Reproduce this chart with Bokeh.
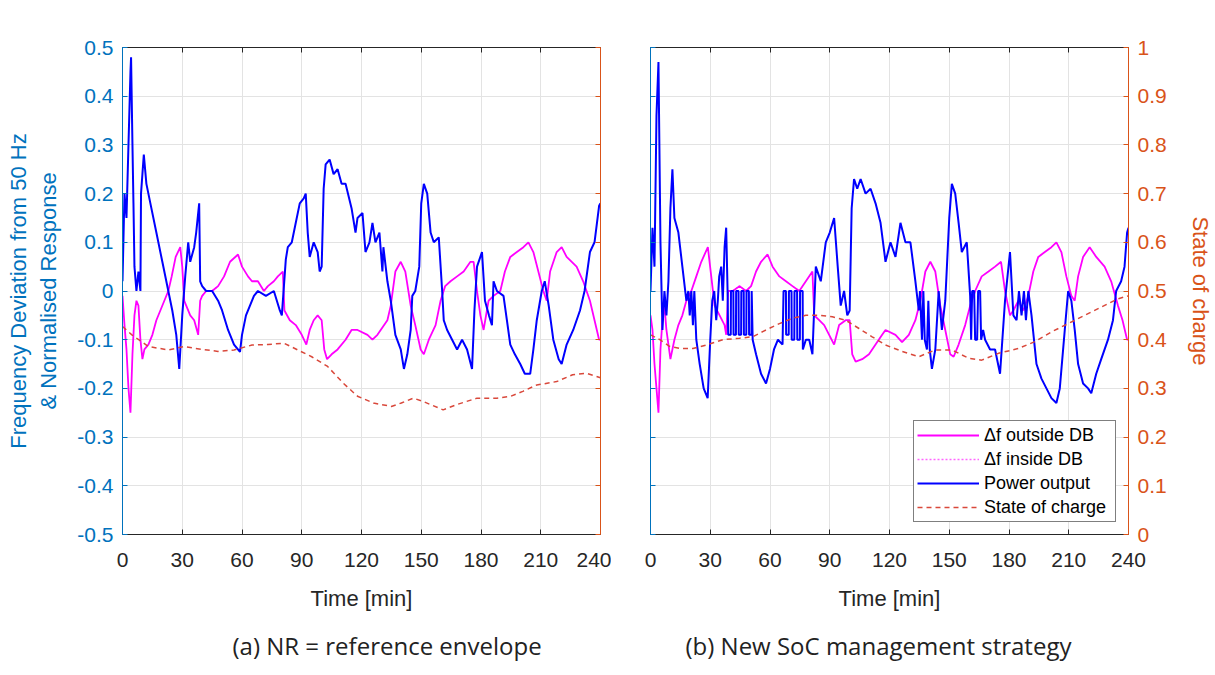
from bokeh.plotting import figure
from bokeh.models import Range1d, LinearAxis, FixedTicker, Legend, LegendItem, CustomLabelingPolicy
from bokeh.layouts import row
from bokeh.embed import file_html
from bokeh.resources import INLINE

NAN = float("nan")

# ---------------- axes / ticks ----------------
x_ticks = [0, 30, 60, 90, 120, 150, 180, 210, 240]
x_tick_labels = ["0", "30", "60", "90", "120", "150", "180", "210", "240"]
y_ticks = [-0.5, -0.4, -0.3, -0.2, -0.1, 0, 0.1, 0.2, 0.3, 0.4, 0.5]
y_tick_labels = ["-0.5", "-0.4", "-0.3", "-0.2", "-0.1", "0", "0.1", "0.2", "0.3", "0.4", "0.5"]
soc_ticks = [0, 0.1, 0.2, 0.3, 0.4, 0.5, 0.6, 0.7, 0.8, 0.9, 1]
soc_tick_labels = ["0", "0.1", "0.2", "0.3", "0.4", "0.5", "0.6", "0.7", "0.8", "0.9", "1"]

captions = ["(a) NR = reference envelope", "(b) New SoC management strategy"]
legend_labels = ["\u0394f outside DB", "\u0394f inside DB", "Power output", "State of charge"]

# ---------------- panel (a) data ----------------
t_pow_a = [0, 1, 2, 3, 4, 4.3, 5, 5.5, 6, 7, 8, 9, 9.3, 10, 10.7, 12, 14, 17, 20, 23, 25, 27, 28.5,
           30, 31.5, 33, 34, 36, 37, 38.5, 39, 40, 42, 45, 48, 50, 53, 56, 59, 60, 62, 64, 66, 68,
           72, 76, 79, 80, 82, 83, 85, 87, 89, 91, 92, 93, 94, 96, 98, 99, 100, 101, 102, 104, 106,
           108, 110, 112, 115, 117, 118, 120.5, 122, 124, 125.5, 127, 129, 130.5, 131, 133, 134.7,
           137, 139.7, 141.3, 143, 144.7, 145.5, 147, 149, 150, 151.3, 153, 154.7, 156.3, 158.8,
           160.5, 161.3, 163, 165.5, 168, 170.5, 173, 175.5, 176.7, 178, 180.5, 182, 184, 185.5,
           186.3, 188, 191.3, 193, 194.7, 197, 199.7, 202, 204.7, 206.3, 208, 210.5, 212, 214,
           216.3, 219, 220.5, 223, 226.3, 229.7, 232, 234.7, 237, 239.3, 240]
pow_a = [0.02, 0.2, 0.15, 0.3, 0.45, 0.48, 0.3, 0.18, 0.05, 0.0, 0.04, 0.0, 0.2, 0.24, 0.28, 0.22,
         0.18, 0.12, 0.06, 0.0, -0.04, -0.09, -0.16, -0.05, 0.03, 0.1, 0.06, 0.09, 0.12, 0.18, 0.02,
         0.01, 0.0, 0.0, -0.02, -0.04, -0.08, -0.11, -0.125, -0.09, -0.05, -0.03, -0.01, 0.0, -0.01,
         0.0, -0.04, -0.05, 0.065, 0.09, 0.1, 0.14, 0.18, 0.19, 0.2, 0.12, 0.07, 0.1, 0.08, 0.04,
         0.05, 0.21, 0.26, 0.27, 0.24, 0.25, 0.22, 0.22, 0.17, 0.12, 0.15, 0.16, 0.08, 0.1, 0.14,
         0.1, 0.12, 0.04, 0.09, 0.02, -0.02, -0.09, -0.12, -0.16, -0.13, -0.08, -0.01, 0.0, 0.05,
         0.18, 0.22, 0.2, 0.12, 0.1, 0.11, 0.0, -0.06, -0.08, -0.1, -0.12, -0.1, -0.12, -0.16,
         -0.04, 0.05, 0.08, -0.02, -0.05, -0.07, 0.02, 0.0, -0.01, -0.06, -0.11, -0.13, -0.15,
         -0.17, -0.17, -0.12, -0.06, 0.0, 0.02, -0.03, -0.1, -0.14, -0.15, -0.11, -0.08, -0.04,
         0.0, 0.08, 0.1, 0.175, 0.18]

t_df_a = [0, 1, 2, 3, 4, 5, 6, 7, 8, 9, 10, 11, 13, 15, 17, 19, 21, 23, 24.7, 26.7, 29, 30, 31, 32,
          34, 36, 38, 39, 40, 42, 45, 48, 51, 54, 58, 60, 63, 65, 68, 71, 73, 76, 78, 80.5, 81.3,
          84, 87, 90, 92.3, 94, 96, 98, 100, 101.3, 102.7, 105, 108, 112, 115, 118, 123, 125.5,
          128, 133, 134.7, 137, 139.7, 142, 144.7, 147, 149.7, 151.3, 153.8, 157.2, 159.7, 162,
          164.7, 168, 171.3, 174.7, 176.3, 178, 179.7, 181.3, 183.8, 186.3, 189.7, 192, 194.7,
          198, 201.3, 203.8, 206.3, 208.8, 211.3, 213, 214.7, 218, 220.5, 223, 228, 231.3, 234.7,
          237, 239.3, 240]
df_a = [-0.01, -0.07, -0.12, -0.2, -0.25, -0.13, -0.05, -0.02, -0.03, -0.1, -0.14, -0.12, -0.11,
        -0.09, -0.06, -0.04, -0.02, 0.0, 0.03, 0.07, 0.09, 0.05, -0.02, -0.03, -0.05, -0.06, -0.09,
        -0.02, -0.01, 0.0, 0.0, 0.01, 0.03, 0.06, 0.075, 0.05, 0.03, 0.02, 0.02, 0.0, 0.01, 0.02,
        0.03, 0.04, -0.04, -0.06, -0.07, -0.09, -0.11, -0.08, -0.06, -0.05, -0.06, -0.12, -0.14,
        -0.13, -0.12, -0.1, -0.08, -0.08, -0.09, -0.1, -0.09, -0.06, -0.03, 0.04, 0.06, 0.04,
        -0.03, -0.07, -0.12, -0.13, -0.1, -0.07, -0.02, 0.01, 0.02, 0.03, 0.04, 0.06, 0.06, 0.0,
        -0.05, -0.08, -0.02, -0.01, 0.0, 0.04, 0.07, 0.08, 0.09, 0.1, 0.08, 0.04, 0.0, -0.02,
        0.04, 0.08, 0.09, 0.07, 0.05, 0.02, -0.02, -0.06, -0.1, -0.1]

# stretches of the frequency trace inside the dead band (dotted, hidden under the solid trace)
t_db_a = [40, 42, 45, 48, NAN, 71, 73, NAN, 186.3, 189.7]
db_a = [-0.01, 0.0, 0.0, 0.01, NAN, 0.0, 0.01, NAN, -0.01, 0.0]

t_soc_a = [0, 4.7, 13, 23, 31, 40, 48, 56, 65, 73, 81, 88, 95, 103, 111, 118, 126, 135, 140, 146,
           151, 161, 168, 178, 188, 195, 201, 208, 218, 226, 233, 240]
soc_a = [0.427, 0.41, 0.386, 0.379, 0.386, 0.38, 0.376, 0.379, 0.389, 0.39, 0.393, 0.379, 0.365,
         0.345, 0.31, 0.284, 0.27, 0.263, 0.27, 0.28, 0.273, 0.256, 0.267, 0.28, 0.28, 0.284,
         0.294, 0.307, 0.314, 0.328, 0.331, 0.322]

# ---------------- panel (b) data ----------------
t_pow_b = [0, 1, 2, 3, 4, 5, 6, 7, 8, 9, 10, 11, 12, 14, 16, 18, 19, 19.7, 20.5, 21.3, 22, 23,
           24.7, 26.7, 28.7, 30, 31, 32, 33, 33.8, 34.5, 35.5, 36.3, 37.2, 38, 38.7,
           39.0, 40.3, 40.4, 41.6, 41.7, 42.9, 43.0, 44.2, 44.3, 45.5, 45.6, 46.8, 46.9, 48.1,
           48.2, 49.4, 49.5, 50.7, 50.8,
           51.3, 53, 55.5, 58, 60, 62, 64, 66.3,
           66.8, 68.0, 68.1, 69.4, 69.5, 70.8, 70.9, 72.2, 72.3, 73.6, 73.7, 75.0, 75.1, 76.4,
           76.5, 78,
           79.7, 81.3, 83, 85.5, 88, 90, 92.2, 94, 95.5, 97.2, 98.8, 100, 101, 102.2,
           103.8, 105.5, 108, 110.5, 113, 115.5, 118, 120.5, 123, 125.5, 128, 130.5, 133, 134.7,
           135.3, 136.3, 137, 137.7, 138.8, 139.5, 140.2, 141.3, 143, 144.7, 146.3, 148, 150,
           151.3, 153, 154.7, 156.3, 158.8, 160.5, 161, 161.5, 162.5, 163, 164, 164.5, 165.5, 166,
           167, 168, 170.5, 173, 175.5, 178, 180.5, 182.2, 183.8, 185, 186.3, 187.5, 188.5, 189.7,
           191.3, 193.8, 196.3, 198.8, 201.3, 203.8, 205.5, 208, 209.7, 211.3, 213, 214.7, 217.2,
           219.7, 221.3, 223.8, 226.3, 229.7, 232.2, 233.8, 236.3, 238, 239.3, 240]
pow_b = [0.0, 0.13, 0.05, 0.36, 0.47, 0.1, -0.08, 0.0, -0.05, 0.02, 0.17, 0.25, 0.15, 0.12, 0.05,
         -0.02, 0.0, -0.05, 0.0, -0.07, 0.0, -0.1, -0.15, -0.2, -0.22, -0.1, -0.02, 0.0, -0.06,
         -0.02, 0.03, 0.05, -0.02, 0.09, 0.13, 0.0,
         -0.09, -0.09, 0.0, 0.0, -0.09, -0.09, 0.0, 0.0, -0.09, -0.09, 0.0, 0.0, -0.09, -0.09,
         0.0, 0.0, -0.09, -0.09, 0.0,
         -0.1, -0.13, -0.17, -0.19, -0.16, -0.12, -0.1, -0.11,
         0.0, 0.0, -0.09, -0.09, 0.0, 0.0, -0.1, -0.1, 0.0, 0.0, -0.1, -0.1, 0.0, 0.0,
         -0.12, -0.1,
         -0.1, -0.13, 0.05, 0.02, 0.1, 0.12, 0.15, 0.05, -0.03, 0.0, -0.05,
         -0.04, 0.17, 0.23, 0.21, 0.23, 0.2, 0.21, 0.18, 0.14, 0.06, 0.1, 0.07, 0.14, 0.1, 0.1,
         0.02, -0.04, 0.0, -0.1, 0.0, -0.1, -0.12, -0.02, -0.12, -0.16, -0.12, 0.0, -0.08, -0.02,
         0.15, 0.22, 0.2, 0.14, 0.08, 0.1, -0.01, -0.1, 0.0, 0.0, -0.1, -0.1, 0.0, 0.0, -0.1,
         -0.08, -0.1, -0.12, -0.12, -0.17, -0.02, 0.08, -0.05, -0.06, 0.0, -0.05, 0.0, -0.06, 0.0,
         -0.05, -0.15, -0.18, -0.2, -0.22, -0.23, -0.2, -0.08, 0.0, -0.02, -0.08, -0.15, -0.19,
         -0.2, -0.21, -0.17, -0.14, -0.1, -0.06, 0.0, 0.02, 0.05, 0.12, 0.13]

t_df_b = [0, 1, 2, 3, 4, 5, 6, 7, 8, 10, 12, 14, 16, 18, 20.5, 23, 25.5, 28.8, 30.5, 32.2, 34.7,
          37.2, 38, 39, 41.3, 44.7, 48, 50.5, 53, 55.5, 58.8, 61.3, 64.7, 68, 71.3, 74.7, 78, 81.3,
          82.2, 84.7, 87.2, 89.7, 92.2, 94.7, 98, 100, 101.3, 103, 106.3, 109.7, 113, 116.3, 118,
          123, 126.3, 129.7, 133, 135.5, 138, 140.5, 143, 145.5, 148, 150.5, 152.2, 154.7, 158,
          160.5, 163, 166.3, 169.7, 173, 176, 178, 180.5, 182.2, 184.7, 187.2, 189.7, 192.2,
          194.7, 198, 201.3, 203.8, 206.3, 208.8, 211.3, 213, 214.7, 217.2, 220.5, 223.8, 228,
          231.3, 234.7, 237, 239.3, 240]
df_b = [-0.05, -0.08, -0.15, -0.2, -0.25, -0.12, -0.06, -0.03, -0.08, -0.14, -0.1, -0.07, -0.05,
        -0.02, 0.0, 0.03, 0.06, 0.09, 0.03, -0.03, -0.05, -0.07, -0.09, 0.0, 0.0, 0.01, 0.0, 0.01,
        0.04, 0.06, 0.075, 0.05, 0.03, 0.02, 0.01, 0.0, 0.02, 0.04, -0.05, -0.06, -0.07, -0.09,
        -0.11, -0.07, -0.06, -0.06, -0.13, -0.145, -0.14, -0.13, -0.11, -0.09, -0.08, -0.09,
        -0.105, -0.09, -0.06, -0.02, 0.04, 0.06, 0.04, -0.03, -0.08, -0.13, -0.135, -0.11, -0.07,
        -0.03, 0.0, 0.03, 0.04, 0.05, 0.06, 0.0, -0.05, -0.04, -0.02, -0.04, -0.01, 0.04, 0.07,
        0.08, 0.09, 0.1, 0.08, 0.03, -0.01, -0.02, 0.03, 0.07, 0.09, 0.07, 0.05, 0.02, -0.03,
        -0.06, -0.1, -0.1]

t_db_b = [39, 41.3, 44.7, 48, 50.5, NAN, 71.3, 74.7, NAN, 160.5, 163, NAN, 187.2, 189.7]
db_b = [0.0, 0.0, 0.01, 0.0, 0.01, NAN, 0.01, 0.0, NAN, -0.01, 0.0, NAN, -0.01, -0.01]

t_soc_b = [0, 4.7, 9.7, 14.7, 21.3, 28, 36.3, 44.7, 51.3, 58, 64.7, 71.3, 78, 84.7, 91.3, 98,
           104.7, 111.3, 118, 126.3, 134.7, 143, 151.3, 159.7, 166.3, 174.7, 184.7, 193, 201.3,
           209.7, 218, 226.3, 234.7, 240]
soc_b = [0.41, 0.40, 0.386, 0.382, 0.382, 0.389, 0.40, 0.403, 0.406, 0.42, 0.433, 0.444, 0.45,
         0.45, 0.447, 0.44, 0.423, 0.406, 0.389, 0.376, 0.365, 0.379, 0.379, 0.362, 0.358, 0.372,
         0.382, 0.396, 0.416, 0.433, 0.45, 0.467, 0.484, 0.49]

# ---------------- styling ----------------
BLUE_AX = "#0072BD"
ORANGE_AX = "#D95319"
DARK = "#262626"
MAGENTA = "#FF00FF"
POWER = "#0000FF"
SOC_COL = "#D9483B"
TICK_FONT = "Liberation Sans"

NO_LABELS = """
const keep = [];
for (const i of indices) keep.push(i);
for (const i of keep) indices.unset(i);
return indices;
"""


def style_axis(ax, color, labels_on, ticks, tick_labels=None):
    ax.ticker = FixedTicker(ticks=ticks)
    ax.axis_line_color = color
    ax.major_tick_line_color = color
    ax.major_tick_in = 5
    ax.major_tick_out = 0
    ax.minor_tick_line_color = None
    ax.major_label_text_color = color
    ax.major_label_text_font = TICK_FONT
    if labels_on:
        ax.major_label_text_font_size = "21px"
        ax.major_label_overrides = {t: l for t, l in zip(ticks, tick_labels)}
    else:
        # tick marks only: no labels are drawn and no room is kept for them
        ax.major_label_text_font_size = "0px"
        ax.major_label_standoff = 0
        ax.major_label_policy = CustomLabelingPolicy(code=NO_LABELS)


def make_panel(which, t_pow, pw, t_df, df, t_db, db, t_soc, soc, width, bl, br):
    p = figure(width=width, height=674, x_range=Range1d(0, 240), y_range=Range1d(-0.5, 0.5),
               output_backend="svg", toolbar_location=None,
               min_border_left=bl, min_border_right=br, min_border_top=47, min_border_bottom=137,
               title=captions[which], title_location="below")
    p.extra_y_ranges = {"soc": Range1d(0, 1)}
    p.outline_line_color = None
    p.background_fill_color = "white"
    p.border_fill_color = "white"

    p.xgrid.ticker = FixedTicker(ticks=x_ticks)
    p.ygrid.ticker = FixedTicker(ticks=y_ticks)
    p.xgrid.grid_line_color = "#e3e3e3"
    p.ygrid.grid_line_color = "#e3e3e3"

    # bottom x axis
    xa = p.xaxis[0]
    style_axis(xa, DARK, True, x_ticks, x_tick_labels)
    xa.major_label_standoff = 18
    xa.axis_label = "Time [min]"
    xa.axis_label_text_font = TICK_FONT
    xa.axis_label_text_font_size = "22px"
    xa.axis_label_text_font_style = "normal"
    xa.axis_label_text_color = DARK
    xa.axis_label_standoff = 16

    # top axis
    top = LinearAxis()
    style_axis(top, DARK, False, x_ticks)
    p.add_layout(top, "above")

    # left axis
    ya = p.yaxis[0]
    style_axis(ya, BLUE_AX, which == 0, y_ticks, y_tick_labels)
    if which == 0:
        ya.major_label_standoff = 9
        ya.axis_label = "Frequency Deviation from 50 Hz\n& Normalised Response"
        ya.axis_label_text_font = TICK_FONT
        ya.axis_label_text_font_size = "22px"
        ya.axis_label_text_font_style = "normal"
        ya.axis_label_text_color = BLUE_AX
        ya.axis_label_standoff = 13

    # right axis (state of charge)
    ra = LinearAxis(y_range_name="soc")
    style_axis(ra, ORANGE_AX, which == 1, soc_ticks, soc_tick_labels)
    if which == 1:
        ra.major_label_standoff = 9
        ra.axis_label = "State of charge"
        ra.axis_label_text_font = TICK_FONT
        ra.axis_label_text_font_size = "22px"
        ra.axis_label_text_font_style = "normal"
        ra.axis_label_text_color = ORANGE_AX
        ra.axis_label_standoff = 18
    p.add_layout(ra, "right")

    r_df = p.line(t_df, df, line_color=MAGENTA, line_width=1.8)
    r_in = p.line(t_db, db, line_color=MAGENTA, line_alpha=0.6, line_width=1.4, line_dash="2 2")
    r_pw = p.line(t_pow, pw, line_color=POWER, line_width=2.0)
    r_soc = p.line(t_soc, soc, y_range_name="soc", line_color=SOC_COL, line_width=1.5,
                   line_dash="5 4")

    p.title.align = "left"
    p.title.offset = 110 if which == 0 else 35
    p.title.text_font = "Open Sans"
    p.title.text_font_size = "24px"
    p.title.text_font_style = "normal"
    p.title.text_color = "#222222"
    p.title.standoff = 26

    if which == 1:
        legend = Legend(items=[
            LegendItem(label=legend_labels[0], renderers=[r_df]),
            LegendItem(label=legend_labels[1], renderers=[r_in]),
            LegendItem(label=legend_labels[2], renderers=[r_pw]),
            LegendItem(label=legend_labels[3], renderers=[r_soc]),
        ], location="bottom_right")
        legend.margin = 12
        legend.padding = 3
        legend.spacing = 2
        legend.label_height = 22
        legend.glyph_height = 22
        legend.glyph_width = 62
        legend.label_width = 128
        legend.label_standoff = 5
        legend.label_text_font = TICK_FONT
        legend.label_text_font_size = "18px"
        legend.label_text_color = "#000000"
        legend.border_line_color = "black"
        legend.border_line_width = 1
        legend.background_fill_alpha = 1
        p.add_layout(legend)
    return p


p1 = make_panel(0, t_pow_a, pow_a, t_df_a, df_a, t_db_a, db_a, t_soc_a, soc_a, 611, 122, 11)
p2 = make_panel(1, t_pow_b, pow_b, t_df_b, df_b, t_db_b, db_b, t_soc_b, soc_b, 604, 39, 87)

layout = row(p1, p2, spacing=0)
open("out.html", "w").write(file_html(layout, INLINE))
